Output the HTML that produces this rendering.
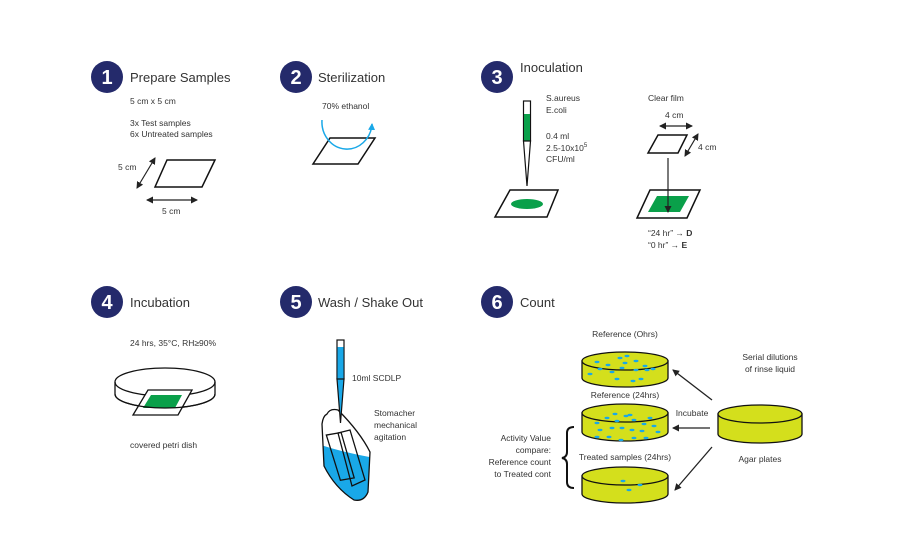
<!DOCTYPE html>
<html><head><meta charset="utf-8"><style>
html,body{margin:0;padding:0;background:#fff}
svg{display:block}
text{font-family:"Liberation Sans",sans-serif;fill:#333}
.t{font-size:13px;fill:#333}
.s{font-size:8.5px}
.n{font-size:20px;font-weight:bold;fill:#fff}
</style></head><body>
<svg width="900" height="550" viewBox="0 0 900 550" xmlns="http://www.w3.org/2000/svg">
<defs>
<marker id="a" markerWidth="8" markerHeight="8" refX="6" refY="4" orient="auto-start-reverse" markerUnits="userSpaceOnUse"><path d="M0,0.5 L7,4 L0,7.5z" fill="#222"/></marker>
<marker id="ab" markerWidth="8" markerHeight="8" refX="6" refY="4" orient="auto" markerUnits="userSpaceOnUse"><path d="M0,0.5 L7,4 L0,7.5z" fill="#19a8e8"/></marker>
</defs>
<g>
<circle cx="107" cy="77" r="16" fill="#242a6b"/><text x="107" y="84" class="n" text-anchor="middle">1</text>
<circle cx="296" cy="77" r="16" fill="#242a6b"/><text x="296" y="84" class="n" text-anchor="middle">2</text>
<circle cx="497" cy="77" r="16" fill="#242a6b"/><text x="497" y="84" class="n" text-anchor="middle">3</text>
<circle cx="107" cy="302" r="16" fill="#242a6b"/><text x="107" y="309" class="n" text-anchor="middle">4</text>
<circle cx="296" cy="302" r="16" fill="#242a6b"/><text x="296" y="309" class="n" text-anchor="middle">5</text>
<circle cx="497" cy="302" r="16" fill="#242a6b"/><text x="497" y="309" class="n" text-anchor="middle">6</text>
<text x="130" y="82" class="t">Prepare Samples</text>
<text x="318" y="82" class="t">Sterilization</text>
<text x="520" y="72" class="t">Inoculation</text>
<text x="130" y="307" class="t">Incubation</text>
<text x="318" y="307" class="t">Wash / Shake Out</text>
<text x="520" y="307" class="t">Count</text>
</g>
<!-- Panel 1 -->
<text x="130" y="104" class="s">5 cm x 5 cm</text>
<text x="130" y="126" class="s">3x Test samples</text>
<text x="130" y="137" class="s">6x Untreated samples</text>
<polygon points="155,187 202,187 215,160 167,160" fill="none" stroke="#111" stroke-width="1.5"/>
<line x1="137" y1="188" x2="155" y2="158" stroke="#222" stroke-width="1.2" marker-start="url(#a)" marker-end="url(#a)"/>
<text x="118" y="170" class="s">5 cm</text>
<line x1="147" y1="200" x2="197" y2="200" stroke="#222" stroke-width="1.2" marker-start="url(#a)" marker-end="url(#a)"/>
<text x="162" y="214" class="s">5 cm</text>
<!-- Panel 2 -->
<text x="322" y="109" class="s">70% ethanol</text>
<polygon points="313,164 358,164 375,138 330,138" fill="none" stroke="#111" stroke-width="1.5"/>
<path d="M322,120 A25,27 0 0 0 372,124" fill="none" stroke="#19a8e8" stroke-width="1.5" marker-end="url(#ab)"/>
<!-- Panel 3 -->
<text x="546" y="101" class="s">S.aureus</text>
<text x="546" y="113" class="s">E.coli</text>
<text x="546" y="139" class="s">0.4 ml</text>
<text x="546" y="151" class="s">2.5-10x10<tspan dy="-4" font-size="6">5</tspan></text>
<text x="546" y="162" class="s">CFU/ml</text>
<rect x="523.5" y="101" width="7" height="40" fill="#fff" stroke="#111" stroke-width="1.2"/>
<rect x="524" y="114" width="6" height="27" fill="#0aa04a"/>
<polygon points="523.5,141 530.5,141 527,186" fill="#fff" stroke="#111" stroke-width="1.2"/>
<polygon points="495,217 547,217 558,190 510,190" fill="#fff" stroke="#111" stroke-width="1.5"/>
<ellipse cx="527" cy="204" rx="16" ry="5" fill="#0aa04a"/>
<text x="648" y="101" class="s">Clear film</text>
<text x="665" y="118" class="s">4 cm</text>
<line x1="660" y1="126" x2="692" y2="126" stroke="#222" stroke-width="1.2" marker-start="url(#a)" marker-end="url(#a)"/>
<polygon points="648,153 678,153 687,135 658,135" fill="none" stroke="#111" stroke-width="1.5"/>
<line x1="685" y1="156" x2="698" y2="134" stroke="#222" stroke-width="1.2" marker-start="url(#a)" marker-end="url(#a)"/>
<text x="698" y="150" class="s">4 cm</text>
<polygon points="637,218 687,218 700,190 650,190" fill="#fff" stroke="#111" stroke-width="1.5"/>
<polygon points="648,212 680,212 689,196 657,196" fill="#0aa04a"/>
<line x1="668" y1="158" x2="668" y2="212" stroke="#222" stroke-width="1.2" marker-end="url(#a)"/>
<text x="648" y="236" class="s">“24 hr” → <tspan font-weight="bold">D</tspan></text>
<text x="648" y="248" class="s">“0 hr” → <tspan font-weight="bold">E</tspan></text>
<!-- Panel 4 -->
<text x="130" y="346" class="s">24 hrs, 35°C, RH≥90%</text>
<path d="M115,382 L115,394 A50,14 0 0 0 215,394 L215,382" fill="#fff" stroke="#111" stroke-width="1.3"/>
<ellipse cx="165" cy="382" rx="50" ry="14" fill="none" stroke="#111" stroke-width="1.3"/>
<polygon points="133,415 178,415 192,390 148,390" fill="#fff" stroke="#111" stroke-width="1.3"/>
<polygon points="143,408 175,408 182,395 151,395" fill="#0aa04a"/>
<path d="M115,394 A50,14 0 0 0 215,394" fill="none" stroke="#111" stroke-width="1.3"/>
<text x="130" y="448" class="s">covered petri dish</text>
<!-- Panel 5 -->
<text x="352" y="381" class="s">10ml SCDLP</text>
<text x="374" y="416" class="s">Stomacher</text>
<text x="374" y="428" class="s">mechanical</text>
<text x="374" y="440" class="s">agitation</text>
<clipPath id="bag"><path d="M327,414 Q330,408 338,410 Q360,432 370,452 L368,492 Q364,502 354,500 Q335,488 324,466 L322,424 Q323,416 327,414z"/></clipPath>
<path d="M327,414 Q330,408 338,410 Q360,432 370,452 L368,492 Q364,502 354,500 Q335,488 324,466 L322,424 Q323,416 327,414z" fill="#fff"/>
<path d="M315,443 Q340,452 375,458 L375,513 L315,513z" fill="#19a8e8" clip-path="url(#bag)"/>
<polygon points="330,433 345,433 350,480 336,480" fill="none" stroke="#111" stroke-width="1.3" transform="rotate(-10 340 455)"/>
<polygon points="338,433 350,430 365,480 352,486" fill="none" stroke="#111" stroke-width="1.3"/>
<path d="M327,414 Q330,408 338,410 Q360,432 370,452 L368,492 Q364,502 354,500 Q335,488 324,466 L322,424 Q323,416 327,414z" fill="none" stroke="#111" stroke-width="1.3"/>
<rect x="337" y="340" width="7" height="39" fill="#fff" stroke="#111" stroke-width="1.2"/>
<rect x="337.5" y="347" width="6" height="32" fill="#19a8e8"/>
<polygon points="337,379 344,379 340.5,423" fill="#19a8e8" stroke="#111" stroke-width="1.2"/>
<!-- Panel 6 -->
<g stroke="#111" stroke-width="1.3">
<path d="M582,361 L582,378 A43,9 0 0 0 668,378 L668,361z" fill="#d4df1c"/>
<ellipse cx="625" cy="361" rx="43" ry="9" fill="#d4df1c"/>
<path d="M582,413 L582,432 A43,9 0 0 0 668,432 L668,413z" fill="#d4df1c"/>
<ellipse cx="625" cy="413" rx="43" ry="9" fill="#d4df1c"/>
<path d="M582,476 L582,494 A43,9 0 0 0 668,494 L668,476z" fill="#d4df1c"/>
<ellipse cx="625" cy="476" rx="43" ry="9" fill="#d4df1c"/>
<path d="M718,414 L718,434 A42,9 0 0 0 802,434 L802,414z" fill="#d4df1c"/>
<ellipse cx="760" cy="414" rx="42" ry="9" fill="#d4df1c"/>
</g>
<g fill="#19a8e8">
<ellipse cx="597" cy="362" rx="2.5" ry="1.2"/><ellipse cx="608" cy="365" rx="2.5" ry="1.2"/><ellipse cx="620" cy="358" rx="2.5" ry="1.2"/><ellipse cx="627" cy="356" rx="2.5" ry="1.2"/><ellipse cx="625" cy="363" rx="2.5" ry="1.2"/><ellipse cx="636" cy="361" rx="2.5" ry="1.2"/><ellipse cx="645" cy="366" rx="2.5" ry="1.2"/><ellipse cx="653" cy="369" rx="2.5" ry="1.2"/><ellipse cx="600" cy="369" rx="2.5" ry="1.2"/><ellipse cx="612" cy="372" rx="2.5" ry="1.2"/><ellipse cx="622" cy="368" rx="2.5" ry="1.2"/><ellipse cx="636" cy="370" rx="2.5" ry="1.2"/><ellipse cx="590" cy="374" rx="2.5" ry="1.2"/><ellipse cx="617" cy="379" rx="2.5" ry="1.2"/><ellipse cx="633" cy="381" rx="2.5" ry="1.2"/><ellipse cx="641" cy="379" rx="2.5" ry="1.2"/><ellipse cx="647" cy="370" rx="2.5" ry="1.2"/>
<ellipse cx="597" cy="423" rx="2.5" ry="1.2"/><ellipse cx="607" cy="418" rx="2.5" ry="1.2"/><ellipse cx="617" cy="421" rx="2.5" ry="1.2"/><ellipse cx="626" cy="416" rx="2.5" ry="1.2"/><ellipse cx="634" cy="420" rx="2.5" ry="1.2"/><ellipse cx="644" cy="424" rx="2.5" ry="1.2"/><ellipse cx="654" cy="426" rx="2.5" ry="1.2"/><ellipse cx="600" cy="430" rx="2.5" ry="1.2"/><ellipse cx="612" cy="428" rx="2.5" ry="1.2"/><ellipse cx="622" cy="428" rx="2.5" ry="1.2"/><ellipse cx="632" cy="430" rx="2.5" ry="1.2"/><ellipse cx="642" cy="431" rx="2.5" ry="1.2"/><ellipse cx="658" cy="432" rx="2.5" ry="1.2"/><ellipse cx="597" cy="437" rx="2.5" ry="1.2"/><ellipse cx="609" cy="437" rx="2.5" ry="1.2"/><ellipse cx="621" cy="440" rx="2.5" ry="1.2"/><ellipse cx="634" cy="438" rx="2.5" ry="1.2"/><ellipse cx="646" cy="438" rx="2.5" ry="1.2"/><ellipse cx="630" cy="415" rx="2.5" ry="1.2"/><ellipse cx="615" cy="414" rx="2.5" ry="1.2"/><ellipse cx="650" cy="418" rx="2.5" ry="1.2"/>
<ellipse cx="623" cy="481" rx="2.5" ry="1.2"/><ellipse cx="640" cy="485" rx="2.5" ry="1.2"/><ellipse cx="629" cy="490" rx="2.5" ry="1.2"/>
</g>
<text x="625" y="337" class="s" text-anchor="middle">Reference (Ohrs)</text>
<text x="625" y="398" class="s" text-anchor="middle">Reference (24hrs)</text>
<text x="625" y="460" class="s" text-anchor="middle">Treated samples (24hrs)</text>
<text x="770" y="360" class="s" text-anchor="middle">Serial dilutions</text>
<text x="770" y="372" class="s" text-anchor="middle">of rinse liquid</text>
<text x="692" y="416" class="s" text-anchor="middle">Incubate</text>
<text x="760" y="462" class="s" text-anchor="middle">Agar plates</text>
<text x="551" y="441" class="s" text-anchor="end">Activity Value</text>
<text x="551" y="453" class="s" text-anchor="end">compare:</text>
<text x="551" y="465" class="s" text-anchor="end">Reference count</text>
<text x="551" y="477" class="s" text-anchor="end">to Treated cont</text>
<path d="M574,427 Q567,427 567,433 L567,452 Q567,457 562,458 Q567,459 567,464 L567,482 Q567,488 574,488" fill="none" stroke="#111" stroke-width="2"/>
<line x1="712" y1="400" x2="673" y2="370" stroke="#222" stroke-width="1.3" marker-end="url(#a)"/>
<line x1="710" y1="428" x2="673" y2="428" stroke="#222" stroke-width="1.3" marker-end="url(#a)"/>
<line x1="712" y1="447" x2="675" y2="490" stroke="#222" stroke-width="1.3" marker-end="url(#a)"/>
</svg>
</body></html>
